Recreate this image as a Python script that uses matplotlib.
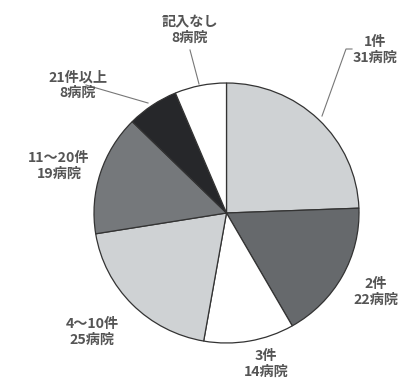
import matplotlib
matplotlib.use("Agg")
import matplotlib.pyplot as plt
import numpy as np

plt.rcParams['font.family'] = ['Noto Sans CJK JP', 'DejaVu Sans']

categories = ['1件', '2件', '3件', '4〜10件', '11〜20件', '21件以上', '記入なし']
counts = [31, 22, 14, 25, 19, 8, 8]
count_labels = ['31病院', '22病院', '14病院', '25病院', '19病院', '8病院', '8病院']
colors = ['#cfd2d4', '#66696c', '#ffffff', '#cfd2d4', '#75787b', '#26272a', '#ffffff']

W, H = 402, 384
fig = plt.figure(figsize=(W / 100, H / 100), dpi=100)
# pie axes placed in pixel coordinates
cx, cy, rx, ry = 226.5, 213, 132.5, 130
ax = fig.add_axes([(cx - rx) / W, 1 - (cy + ry) / H, 2 * rx / W, 2 * ry / H])
ax.pie(counts, colors=colors, startangle=90, counterclock=False, radius=1.0,
       wedgeprops=dict(edgecolor='#333333', linewidth=0.9))
ax.set_xlim(-1.0, 1.0)
ax.set_ylim(-1.0, 1.0)
ax.set_aspect('auto')
ax.axis('off')

# overlay axes in pixel coordinates for labels and leader lines
ov = fig.add_axes([0, 0, 1, 1])
ov.set_xlim(0, W)
ov.set_ylim(H, 0)
ov.axis('off')

text_color = '#555555'
label_pos = [(375, 50), (376, 292), (266, 364), (92, 332), (59, 166), (78, 85), (190, 30)]
for (x, y), cat, cnt in zip(label_pos, categories, count_labels):
    ov.text(x, y, f'{cat}\n{cnt}', ha='center', va='center', fontsize=10.2,
            color=text_color, linespacing=1.12, fontweight='bold')

line_kw = dict(color='#777777', linewidth=0.8)
ov.plot([352, 346, 322], [49, 49, 116], **line_kw)
ov.plot([86, 148], [85, 103], **line_kw)
ov.plot([190, 199], [50, 84], **line_kw)

fig.savefig('out.png', dpi=100, facecolor='white')
